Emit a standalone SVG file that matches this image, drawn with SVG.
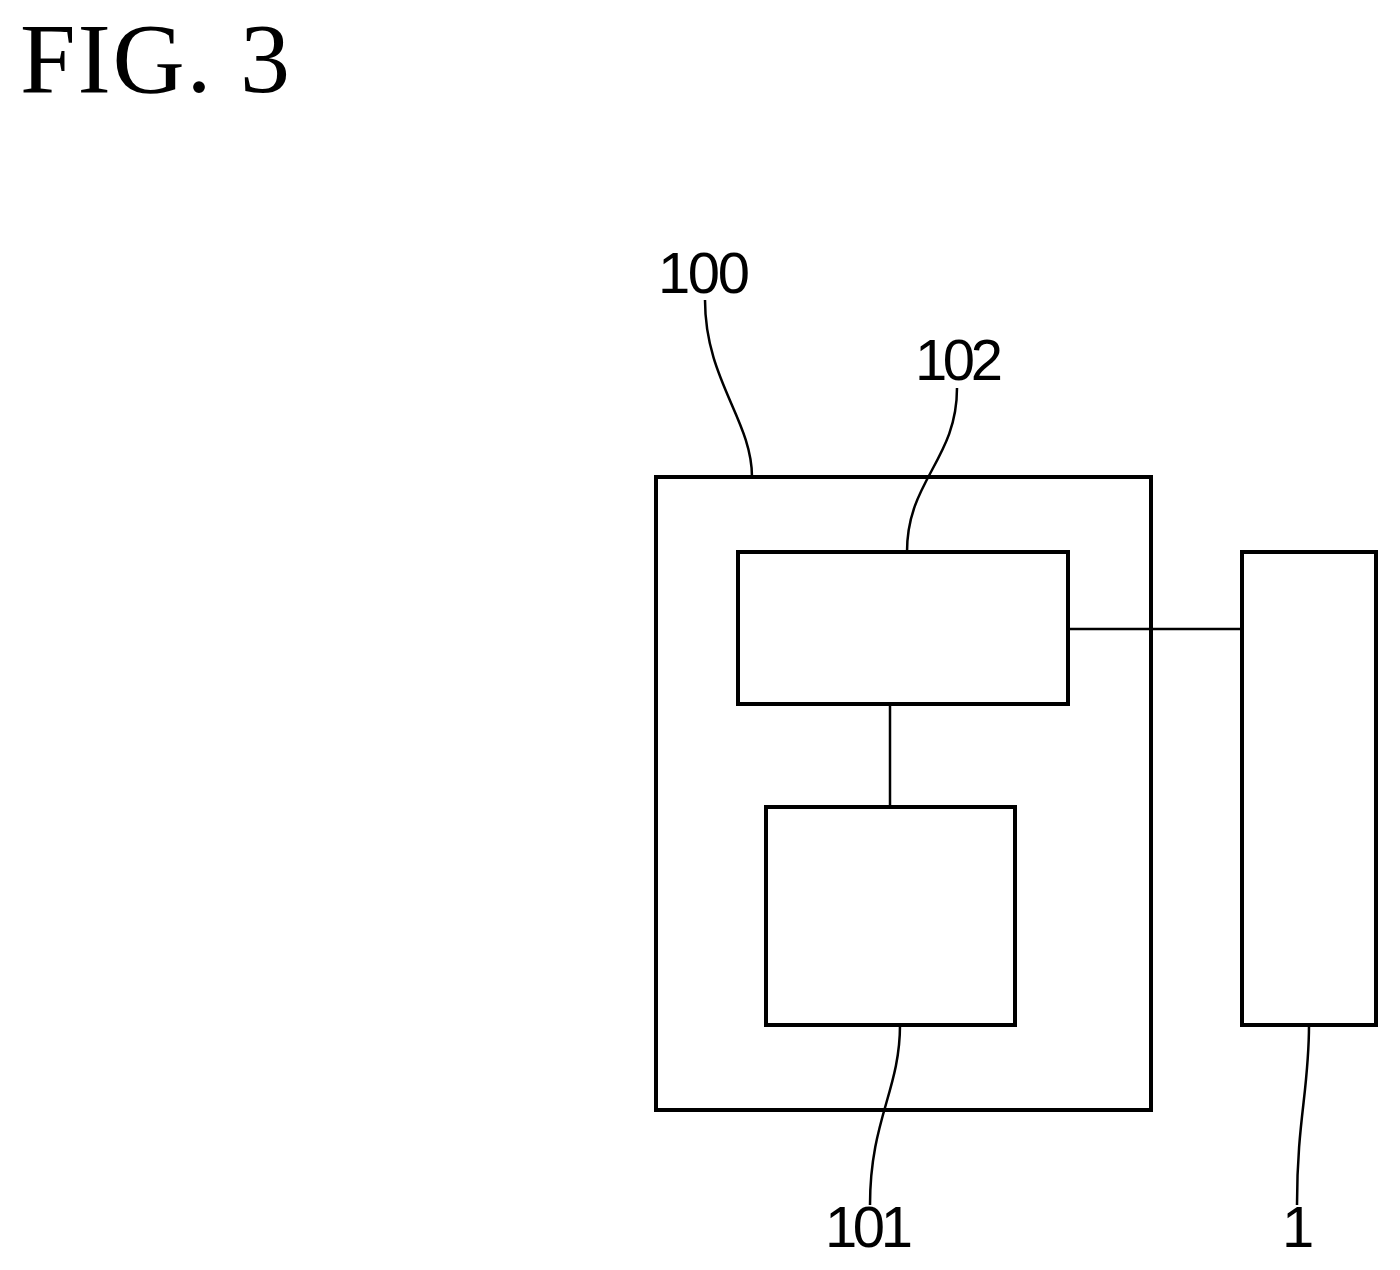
<svg xmlns="http://www.w3.org/2000/svg" width="1400" height="1270" viewBox="0 0 1400 1270">
<style>
.b{fill:none;stroke:#000;stroke-width:4}
.l{fill:none;stroke:#000;stroke-width:2.5}
.t{font-family:"Liberation Sans",Arial,sans-serif;font-size:58px;fill:#000}
</style>
<rect width="1400" height="1270" fill="#fff"/>
<text x="20" y="92" font-family="Liberation Serif,serif" font-size="100" textLength="270">FIG. 3</text>
<g id="n100"><rect class="b" x="656" y="477" width="495" height="633"/><text class="t" x="658" y="293" textLength="92">100</text></g>
<g id="n102"><rect class="b" x="738" y="552" width="330" height="152"/><text class="t" x="915" y="380" textLength="88">102</text></g>
<g id="n101"><rect class="b" x="766" y="807" width="249" height="218"/><text class="t" x="825" y="1247" textLength="88">101</text></g>
<g id="n1"><rect class="b" x="1242" y="552" width="134" height="473"/><text class="t" x="1282" y="1247">1</text></g>
<g id="connectors">
<line class="l" x1="1068" y1="629" x2="1242" y2="629"/>
<line class="l" x1="890" y1="704" x2="890" y2="807"/>
<path class="l" d="M752 477 C752 420 705 380 705 300"/>
<path class="l" d="M907 552 C907 480 957 460 957 388"/>
<path class="l" d="M900 1025 C900 1090 870 1120 870 1205"/>
<path class="l" d="M1309 1025 C1309 1090 1297 1120 1297 1205"/>
</g>
</svg>
